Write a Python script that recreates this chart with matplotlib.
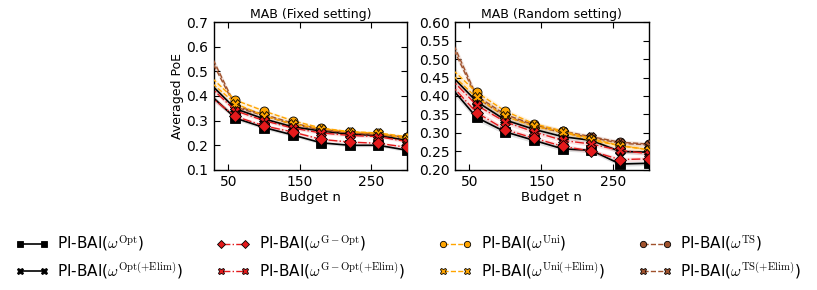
import matplotlib
matplotlib.use("Agg")
import matplotlib.pyplot as plt
import numpy as np

plt.rcParams['mathtext.fontset'] = 'cm'
plt.rcParams['font.family'] = ['DejaVu Sans']

budgets = [20, 60, 100, 140, 180, 220, 260, 300]

fixed = {
    'Opt':      [0.417, 0.310, 0.272, 0.242, 0.210, 0.200, 0.200, 0.180],
    'OptElim':  [0.463, 0.348, 0.307, 0.275, 0.258, 0.245, 0.240, 0.220],
    'GOpt':     [0.408, 0.317, 0.279, 0.254, 0.224, 0.213, 0.208, 0.192],
    'GOptElim': [0.450, 0.340, 0.300, 0.270, 0.250, 0.240, 0.235, 0.215],
    'Uni':      [0.492, 0.383, 0.339, 0.300, 0.270, 0.255, 0.250, 0.235],
    'UniElim':  [0.470, 0.369, 0.320, 0.286, 0.268, 0.254, 0.249, 0.227],
    'TS':       [0.600, 0.360, 0.325, 0.290, 0.265, 0.250, 0.245, 0.232],
    'TSElim':   [0.580, 0.355, 0.320, 0.285, 0.262, 0.250, 0.243, 0.230],
}
random_ = {
    'Opt':      [0.433, 0.342, 0.303, 0.280, 0.257, 0.253, 0.216, 0.218],
    'OptElim':  [0.465, 0.385, 0.335, 0.310, 0.290, 0.280, 0.250, 0.248],
    'GOpt':     [0.440, 0.355, 0.309, 0.286, 0.264, 0.251, 0.228, 0.230],
    'GOptElim': [0.455, 0.375, 0.330, 0.303, 0.280, 0.270, 0.253, 0.244],
    'Uni':      [0.483, 0.410, 0.359, 0.325, 0.305, 0.285, 0.265, 0.255],
    'UniElim':  [0.468, 0.396, 0.345, 0.318, 0.303, 0.280, 0.266, 0.255],
    'TS':       [0.573, 0.400, 0.350, 0.322, 0.305, 0.290, 0.275, 0.270],
    'TSElim':   [0.560, 0.395, 0.345, 0.320, 0.300, 0.288, 0.272, 0.268],
}
band_fixed = [0.012, 0.008, 0.007, 0.007, 0.006, 0.006, 0.006, 0.006]
band_random = [0.012, 0.008, 0.007, 0.007, 0.006, 0.006, 0.006, 0.006]

labels = {
    'Opt': r'PI-BAI($\omega^{\mathrm{Opt}}$)',
    'OptElim': r'PI-BAI($\omega^{\mathrm{Opt(+Elim)}}$)',
    'GOpt': r'PI-BAI($\omega^{\mathrm{G-Opt}}$)',
    'GOptElim': r'PI-BAI($\omega^{\mathrm{G-Opt(+Elim)}}$)',
    'Uni': r'PI-BAI($\omega^{\mathrm{Uni}}$)',
    'UniElim': r'PI-BAI($\omega^{\mathrm{Uni(+Elim)}}$)',
    'TS': r'PI-BAI($\omega^{\mathrm{TS}}$)',
    'TSElim': r'PI-BAI($\omega^{\mathrm{TS(+Elim)}}$)',
}
order = ['Opt', 'OptElim', 'GOpt', 'GOptElim', 'Uni', 'UniElim', 'TS', 'TSElim']
colors = {'Opt': 'black', 'OptElim': 'black', 'GOpt': '#e41a1c', 'GOptElim': '#e41a1c',
          'Uni': '#ffa500', 'UniElim': '#ffa500', 'TS': '#a0522d', 'TSElim': '#a0522d'}
markers = {'Opt': 's', 'OptElim': 'X', 'GOpt': 'D', 'GOptElim': 'X',
           'Uni': 'o', 'UniElim': 'X', 'TS': 'o', 'TSElim': 'X'}
styles = {'Opt': '-', 'OptElim': '-', 'GOpt': '-.', 'GOptElim': '-.',
          'Uni': '--', 'UniElim': '--', 'TS': '--', 'TSElim': '--'}
zorder = {'Opt': 3, 'OptElim': 3, 'TS': 4, 'TSElim': 4, 'Uni': 5, 'UniElim': 5,
          'GOptElim': 6, 'GOpt': 7}
draw_order = ['Opt', 'OptElim', 'TS', 'TSElim', 'Uni', 'UniElim', 'GOptElim', 'GOpt']

fig = plt.figure(figsize=(8.17, 2.9), dpi=100)
ax1 = fig.add_axes([0.262, 0.414, 0.236, 0.510])
ax2 = fig.add_axes([0.557, 0.414, 0.237, 0.510])

handles = {}
for ax, data, band, title, ylim, yticks in [
        (ax1, fixed, band_fixed, 'MAB (Fixed setting)', (0.1, 0.7), np.arange(0.1, 0.71, 0.1)),
        (ax2, random_, band_random, 'MAB (Random setting)', (0.2, 0.6), np.arange(0.2, 0.601, 0.05))]:
    x = np.array(budgets)
    for k in draw_order:
        y = np.array(data[k])
        b = np.array(band)
        ax.fill_between(x, y - b, y + b, color=colors[k], alpha=0.12, lw=0, zorder=1)
        lw = 1.2 if colors[k] == 'black' else 1.0
        ln, = ax.plot(x, y, linestyle=styles[k], color=colors[k], lw=lw,
                      marker=markers[k], markersize=6.5, markerfacecolor=colors[k],
                      markeredgecolor='black', markevery=list(range(1, len(x))),
                      markeredgewidth=0.6, zorder=zorder[k], label=labels[k])
        handles[k] = ln
    ax.set_xlim(30, 300)
    ax.set_ylim(*ylim)
    ax.set_xticks([50, 150, 250])
    ax.set_yticks(yticks)
    if ax is ax1:
        ax.set_yticklabels(['%.1f' % v for v in yticks])
    else:
        ax.set_yticklabels(['%.2f' % v for v in yticks])
    ax.tick_params(direction='in', top=True, right=True, labelsize=10, length=4, width=0.8, pad=4)
    ax.set_title(title, fontsize=9, pad=3)
    ax.set_xlabel('Budget n', fontsize=9.5, labelpad=1)
    for s in ax.spines.values():
        s.set_linewidth(1.0)
ax1.set_ylabel('Averaged PoE', fontsize=9, labelpad=2)

leg = fig.legend([handles[k] for k in order], [labels[k] for k in order],
                 loc='lower left', bbox_to_anchor=(0.002, -0.015), ncol=4, frameon=False,
                 fontsize=11, numpoints=2, markerscale=0.7, handlelength=2.15,
                 columnspacing=2.2, handletextpad=0.6, labelspacing=0.4)

fig.savefig('out.png', dpi=100)
